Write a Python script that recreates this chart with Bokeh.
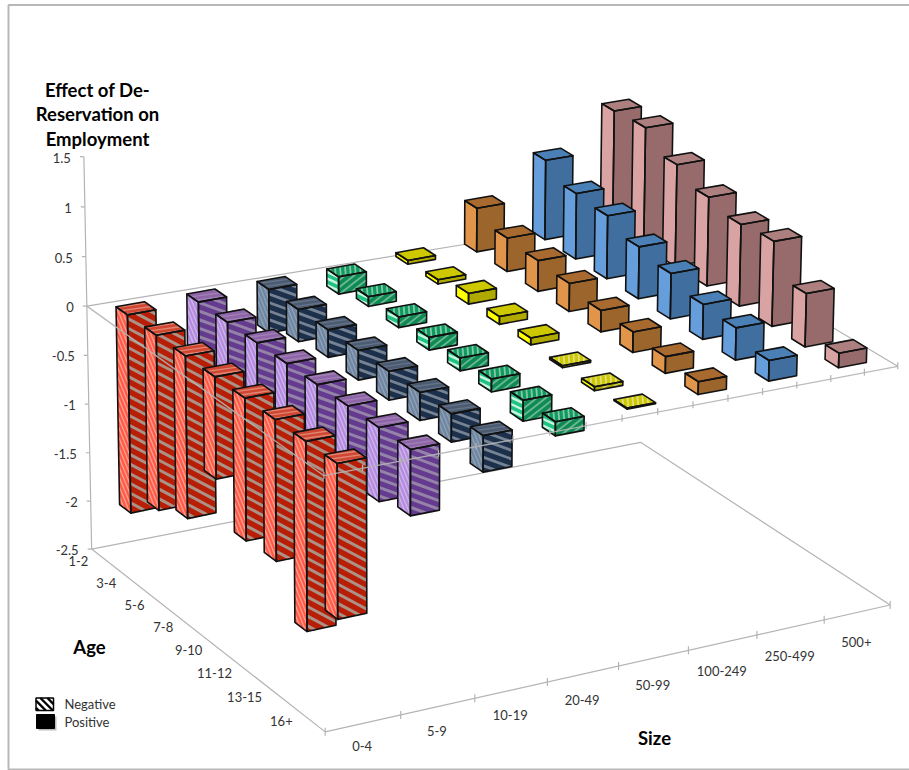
import math

import numpy as np
from bokeh.core.properties import value
from bokeh.embed import file_html
from bokeh.plotting import figure
from bokeh.resources import INLINE

# Category labels
sizes = ["0-4", "5-9", "10-19", "20-49", "50-99", "100-249", "250-499", "500+"]
ages = ["1-2", "3-4", "5-6", "7-8", "9-10", "11-12", "13-15", "16+"]
z_ticks = [-2.5, -2, -1.5, -1, -0.5, 0, 0.5, 1, 1.5]

# Effect on employment, one list per size class, ordered by age
effect_0_4 = [-2.03, -1.78, -1.64, -1.02, -1.42, -1.40, -1.87, -1.52]
effect_5_9 = [-1.05, -1.00, -0.95, -1.00, -0.95, -0.90, -0.73, -0.65]
effect_10_19 = [-0.45, -0.33, -0.28, -0.30, -0.29, -0.28, -0.28, -0.36]
effect_20_49 = [-0.18, -0.10, -0.11, -0.13, -0.13, -0.13, -0.21, -0.14]
effect_50_99 = [0.04, 0.045, 0.11, 0.08, 0.07, -0.02, -0.04, -0.01]
effect_100_249 = [0.46, 0.35, 0.32, 0.29, 0.22, 0.21, 0.17, 0.13]
effect_250_499 = [0.84, 0.69, 0.66, 0.54, 0.47, 0.36, 0.33, 0.21]
effect_500 = [1.24, 1.26, 1.07, 0.93, 0.85, 0.88, 0.55, 0.15]
effects = [effect_0_4, effect_5_9, effect_10_19, effect_20_49,
           effect_50_99, effect_100_249, effect_250_499, effect_500]

# Face colours per size class: (left, front, top)
solid = [
    ("#ff5a45", "#b71e05", "#cf4632"),
    ("#b48bdf", "#643b8f", "#8d65a8"),
    ("#6f86a3", "#1c304c", "#4b5b70"),
    ("#1fc283", "#0f8a53", "#0f9a60"),
    ("#ffff00", "#afa900", "#cdc800"),
    ("#e0954a", "#9c652c", "#a96a30"),
    ("#669edc", "#406f9f", "#4a80b5"),
    ("#d9a3a3", "#976b6b", "#ad7f7f"),
]

# Stripes for negative bars per size class, face by face:
# (angle in degrees, spacing, line width, colour)
stripes = [
    ((68, 3.6, 1.4, "#ff9c8e"), (28, 8.5, 3.0, "#ab9186"), (-8, 4.0, 1.4, "#e08672")),
    ((68, 3.6, 1.4, "#cdb4ea"), (20, 8.0, 3.0, "#9582a8"), (-8, 4.0, 1.4, "#a080b4")),
    ((68, 3.6, 1.4, "#8fa0b5"), (20, 8.0, 2.8, "#768394"), (-8, 4.0, 1.4, "#65728a")),
    ((25, 6.0, 2.4, "#c8f5dd"), (-38, 5.5, 1.8, "#6cb896"), (85, 5.0, 1.8, "#84c8a8")),
    ((25, 6.0, 2.4, "#ffffb0"), (-38, 5.5, 1.8, "#d0cc60"), (85, 5.0, 1.8, "#e0df80")),
]

GRID = "#b4b4b4"
BAR_HALF = 0.025


def fit_camera():
    """Fit the 3x4 projective camera of the axis box (size, age, effect) to the page."""
    anchors = [
        ((0, 0, 1.5), (84, 156)), ((0, 0, 0), (86, 305)), ((0, 0, -2.5), (91, 548)),
        ((1, 0, -2.5), (640, 443)), ((1, 1, -2.5), (890, 604)), ((0, 1, -2.5), (325, 731)),
        ((0, 1, 0), (323, 477)), ((1, 1, 0), (897, 365)),
    ]
    rows = []
    for (x, y, z), (sx, sy) in anchors:
        rows.append([x, y, z, 1, 0, 0, 0, 0, -sx * x, -sx * y, -sx * z, -sx])
        rows.append([0, 0, 0, 0, x, y, z, 1, -sy * x, -sy * y, -sy * z, -sy])
    return np.linalg.svd(np.array(rows, float))[2][-1].reshape(3, 4)


def fit_base():
    """Fit the homography carrying (size, age) on the zero plane to bar foot positions."""
    anchors = [
        ((.0375, .0875), (127, 315)), ((.2875, .0875), (268, 287)), ((.4125, .0875), (338, 277)),
        ((.6625, .0875), (477, 252)), ((.7875, .0875), (544, 240)), ((.9125, .0875), (612, 226)),
        ((.0375, .9625), (337, 463)), ((.2875, .9625), (482, 435)), ((.6625, .9625), (698, 394)),
        ((.7875, .9625), (768, 381)), ((.9125, .9625), (838, 367)),
    ]
    rows = []
    for (x, y), (sx, sy) in anchors:
        rows.append([x, y, 1, 0, 0, 0, -sx * x, -sx * y, -sx])
        rows.append([0, 0, 0, x, y, 1, -sy * x, -sy * y, -sy])
    return np.linalg.svd(np.array(rows, float))[2][-1].reshape(3, 3)


CAMERA = fit_camera()
BASE = fit_base()


def project(u, v, z):
    sx, sy, w = CAMERA @ np.array([u, v, z, 1.0])
    return sx / w, sy / w


def project_bar(u, v, z):
    """Foot on the zero plane plus the box camera's rise for the value."""
    bx, by, w = BASE @ np.array([u, v, 1.0])
    x0, y0 = project(u, v, 0)
    xz, yz = project(u, v, z)
    return bx / w + xz - x0, by / w + yz - y0


def hatch_segments(poly, angle, spacing):
    """Parallel screen-space lines clipped to a convex polygon."""
    a = math.radians(angle)
    d = np.array([math.cos(a), math.sin(a)])
    n = np.array([-d[1], d[0]])
    pts = np.array(poly)
    offs = pts @ n
    k = math.ceil(offs.min() / spacing) * spacing
    segs = []
    while k < offs.max():
        hits = []
        for i in range(len(pts)):
            p, q = pts[i], pts[(i + 1) % len(pts)]
            op, oq = p @ n, q @ n
            if (op - k) * (oq - k) < 0:
                hits.append(p + (q - p) * (k - op) / (oq - op))
        if len(hits) == 2:
            segs.append(hits)
        k += spacing
    return segs


p = figure(width=909, height=770, x_range=(0, 909), y_range=(770, 0),
           output_backend="svg", toolbar_location=None, min_border=0,
           x_axis_location=None, y_axis_location=None)
p.xgrid.visible = False
p.ygrid.visible = False
p.outline_line_color = None


def edge(points, alpha=1.0, width=1.2):
    xs, ys = zip(*[project(*pt) for pt in points])
    p.line(list(xs), list(ys), line_color=GRID, line_width=width, line_alpha=alpha)


def draw_bar(i, j):
    val = effects[i][j]
    u0, u1 = (i + 0.5) / 8 - BAR_HALF, (i + 0.5) / 8 + BAR_HALF
    v0, v1 = (j + 0.5) / 8 - BAR_HALF, (j + 0.5) / 8 + BAR_HALF
    hi, lo = max(val, 0), min(val, 0)
    faces = [
        [(u0, v0, hi), (u0, v1, hi), (u0, v1, lo), (u0, v0, lo)],
        [(u0, v1, hi), (u1, v1, hi), (u1, v1, lo), (u0, v1, lo)],
        [(u0, v0, hi), (u1, v0, hi), (u1, v1, hi), (u0, v1, hi)],
    ]
    polys = [[project_bar(*c) for c in face] for face in faces]
    p.patches([[c[0] for c in f] for f in polys], [[c[1] for c in f] for f in polys],
              fill_color=list(solid[i]), line_color=None)
    if val < 0:
        xs, ys, colors, widths = [], [], [], []
        for poly, (angle, spacing, lw, color) in zip(polys, stripes[i]):
            for a, b in hatch_segments(poly, angle, spacing):
                xs.append([a[0], b[0]])
                ys.append([a[1], b[1]])
                colors.append(color)
                widths.append(lw)
        if xs:
            p.multi_line(xs, ys, line_color=colors, line_width=widths)
    p.patches([[c[0] for c in f] for f in polys], [[c[1] for c in f] for f in polys],
              fill_color=None, line_color="#111111", line_width=1.6, line_join="round")


# Page frame
p.line([909, 8, 8, 909], [4.5, 4.5, 769, 769], line_color="#b8b8b8", line_width=2)

# Floor, value axis and back edge of the zero plane
edge([(0, 0, -2.5), (1, 0, -2.5), (1, 1, -2.5), (0, 1, -2.5), (0, 0, -2.5)])
edge([(0, 0, 1.5), (0, 0, -2.5)])
edge([(0, 0, 0), (1, 0, 0), (1, 1, 0)])

for tick in z_ticks:
    sx, sy = project(0, 0, tick)
    p.line([sx - 4, sx], [sy, sy], line_color=GRID, line_width=1.2)
for k in range(len(sizes) + 1):
    sx, sy = project(k / len(sizes), 1, -2.5)
    p.line([sx, sx], [sy - 4, sy + 4], line_color=GRID, line_width=1.2)

# Bars reaching below zero, painted back to front
for i in reversed(range(8)):
    for j in range(8):
        if effects[i][j] < 0:
            draw_bar(i, j)

# Front edges of the zero plane lie over the hanging bars
edge([(0, 0, 0), (0, 1, 0), (1, 1, 0)], alpha=0.9, width=1.3)
for k in range(2 * len(sizes) + 1):
    sx, sy = project(k / (2 * len(sizes)), 1, 0)
    p.line([sx, sx], [sy - 4, sy + 3], line_color=GRID, line_width=1.2)

# Bars rising above zero
for i in reversed(range(8)):
    for j in range(8):
        if effects[i][j] >= 0:
            draw_bar(i, j)

FONT = value("Lato")

# Value axis labels
zx, zy = zip(*[project(0, 0, t) for t in z_ticks])
p.text([x - 13 for x in zx], [y + 1 for y in zy], text=[f"{t:g}" for t in z_ticks],
       text_font=FONT, text_font_size="13px", text_color="#333333",
       text_align="right", text_baseline="middle")

# Age labels end a fixed distance off the left floor edge
ax, ay = zip(*[project(0, (j + 0.5) / 8, -2.5) for j in range(8)])
p.text([x - 17 for x in ax], [y + 1 for y in ay], text=ages,
       text_font=FONT, text_font_size="13px", text_color="#333333",
       text_align="right", text_baseline="middle")

# Size labels sit off the front floor edge, drifting lower toward the far end
sx_, sy_ = zip(*[project((i + 0.5) / 8, 1, -2.5) for i in range(8)])
p.text([x - 1 for x in sx_], [y + 23 + i for i, y in enumerate(sy_)], text=sizes,
       text_font=FONT, text_font_size="13px", text_color="#333333",
       text_align="center", text_baseline="middle")

# Axis titles
p.text([97, 97, 97], [89, 113, 138], text=["Effect of De-", "Reservation on", "Employment"],
       text_font=FONT, text_font_style="bold", text_font_size="18.5px", text_color="#000000",
       text_align="center", text_baseline="middle")
p.text([89], [646], text=["Age"], text_font=FONT, text_font_style="bold",
       text_font_size="18.5px", text_color="#000000", text_align="center", text_baseline="middle")
p.text([654], [737], text=["Size"], text_font=FONT, text_font_style="bold",
       text_font_size="18.5px", text_color="#000000", text_align="center", text_baseline="middle")

# Sign key
p.quad(left=[38], right=[56], top=[716], bottom=[730], fill_color="#777777", fill_alpha=0.5, line_color=None)
p.quad(left=[36], right=[54], top=[714], bottom=[728], fill_color="#000000", line_color="#000000")
p.quad(left=[35.5], right=[53], top=[697.5], bottom=[710], fill_color="#ffffff", line_color=None)
key_box = [(35.5, 697.5), (53, 697.5), (53, 710), (35.5, 710)]
key_segs = hatch_segments(key_box, 45, 5)
p.multi_line([[a[0], b[0]] for a, b in key_segs], [[a[1], b[1]] for a, b in key_segs],
             line_color="#000000", line_width=2.4)
p.quad(left=[35.5], right=[53], top=[697.5], bottom=[710], fill_color=None,
       line_color="#000000", line_width=1.5)
p.text([64, 64], [703, 721], text=["Negative", "Positive"], text_font=FONT,
       text_font_size="13px", text_color="#333333", text_baseline="middle")

open("out.html", "w").write(file_html(p, INLINE))
